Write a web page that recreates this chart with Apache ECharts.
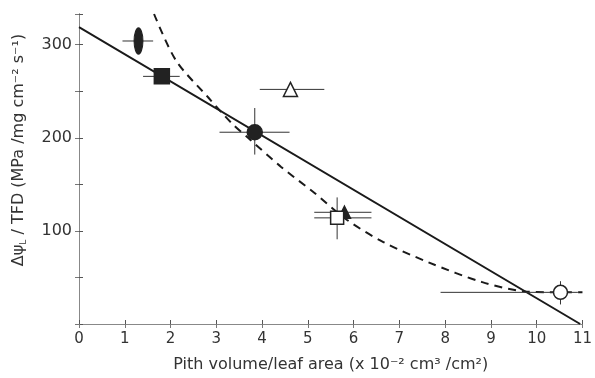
<!DOCTYPE html>
<html>
<head>
<meta charset="utf-8">
<script src="https://cdn.jsdelivr.net/npm/echarts@6/dist/echarts.min.js"></script>
<style>
  html, body { margin: 0; padding: 0; background: #fff; }
  #chart { width: 595px; height: 378px; }
</style>
</head>
<body>
<div id="chart"></div>
<script>
// points: x, y, error bar limits
const ptX   = [1.30, 1.81, 4.62, 3.84, 5.80, 5.64, 10.52];
const ptY   = [304, 266, 252, 206, 120, 114, 34];
const xLo   = [0.95, 1.40, 3.95, 3.07, 5.14, 5.14, 7.90];
const xHi   = [1.62, 2.20, 5.36, 4.60, 6.39, 6.39, 10.9];
const yLo   = [304, 266, 252, 182, 120, 91, 21];
const yHi   = [304, 266, 252, 232, 120, 136, 46];
const ptSym = ['oval', 'fsquare', 'otriangle', 'fcircle', 'ftriangle', 'osquare', 'ocircle'];

// fitted lines
const lineX = [0, 10.95];
const lineY = [319, 0];
const dashX = [1.64, 2.12, 2.83, 3.33, 3.74, 4.41, 5.14, 5.85, 6.65, 7.65, 8.81, 9.74, 10.5, 11.0];
const dashY = [333, 283, 243, 216, 198, 169, 141, 112, 88, 66, 45, 35, 34, 34];

const symbols = {
  oval: { symbol: 'circle', size: [9, 25], fill: '#222' },
  fsquare: { symbol: 'rect', size: 15, fill: '#222' },
  otriangle: { symbol: 'triangle', size: 14, fill: '#fff' },
  fcircle: { symbol: 'circle', size: 15, fill: '#222' },
  ftriangle: { symbol: 'triangle', size: 12, fill: '#222' },
  osquare: { symbol: 'rect', size: 13, fill: '#fff' },
  ocircle: { symbol: 'circle', size: 14, fill: '#fff' }
};

const errData = ptX.map((x, i) => [x, ptY[i], xLo[i], xHi[i], yLo[i], yHi[i]]);

const pointSeries = ptX.map((x, i) => {
  const s = symbols[ptSym[i]];
  return {
    type: 'scatter',
    data: [[x, ptY[i]]],
    symbol: s.symbol,
    symbolSize: s.size,
    z: 5,
    itemStyle: { color: s.fill, borderColor: '#222', borderWidth: 1.5, opacity: 1 }
  };
});

const chart = echarts.init(document.getElementById('chart'));
const txt = '#333';
chart.setOption({
  animation: false,
  textStyle: { fontFamily: 'DejaVu Sans' },
  grid: { left: 79, right: 8, top: 14, bottom: 54 },
  graphic: [{
    type: 'text',
    x: 19, y: 150,
    rotation: Math.PI / 2,
    style: {
      text: '{a|Δψ}{s|L}{a| / TFD (MPa /mg cm⁻² s⁻¹)}',
      align: 'center', verticalAlign: 'middle',
      fill: txt,
      rich: {
        a: { fontSize: 16, fill: txt, fontFamily: 'DejaVu Sans' },
        s: { fontSize: 9, fill: txt, fontFamily: 'DejaVu Sans', padding: [10, 0, 0, 0] }
      }
    }
  }],
  xAxis: [{
    type: 'value', min: 0, max: 11, interval: 1,
    name: 'Pith volume/leaf area (x 10⁻² cm³ /cm²)',
    nameLocation: 'middle', nameGap: 33,
    nameTextStyle: { fontSize: 16, color: txt },
    axisLine: { lineStyle: { color: '#555', width: 1 } },
    axisTick: { inside: true, length: 4, lineStyle: { color: '#555' } },
    axisLabel: { fontSize: 15, color: txt, margin: 8 },
    splitLine: { show: false }
  }, {
    type: 'value', min: 0, max: 11, interval: 1, position: 'top',
    axisLine: { show: true, lineStyle: { color: '#888', width: 1 } },
    axisTick: { inside: true, length: 4, lineStyle: { color: '#777' } },
    axisLabel: { show: false },
    splitLine: { show: false }
  }],
  yAxis: [{
    type: 'value', min: 0, max: 333, interval: 50,
    axisLine: { show: true, lineStyle: { color: '#555', width: 1 } },
    axisTick: { inside: true, length: 4, lineStyle: { color: '#555' } },
    axisLabel: {
      fontSize: 16, color: txt, margin: 7,
      formatter: v => (v % 100 === 0 && v > 0) ? String(v) : ''
    },
    splitLine: { show: false }
  }, {
    type: 'value', min: 0, max: 333, interval: 50, position: 'right',
    axisLine: { show: true, lineStyle: { color: '#888', width: 1 } },
    axisTick: { inside: true, length: 4, lineStyle: { color: '#777' } },
    axisLabel: { show: false },
    splitLine: { show: false }
  }],
  series: [
    {
      type: 'custom',
      data: errData,
      z: 3,
      renderItem: function (params, api) {
        const y = api.value(1);
        const a = api.coord([api.value(2), y]);
        const b = api.coord([api.value(3), y]);
        const c = api.coord([api.value(0), api.value(4)]);
        const d = api.coord([api.value(0), api.value(5)]);
        const st = { stroke: '#333', lineWidth: 1 };
        return {
          type: 'group',
          children: [
            { type: 'line', shape: { x1: a[0], y1: a[1], x2: b[0], y2: b[1] }, style: st },
            { type: 'line', shape: { x1: c[0], y1: c[1], x2: d[0], y2: d[1] }, style: st }
          ]
        };
      }
    },
    {
      type: 'line',
      data: lineX.map((x, i) => [x, lineY[i]]),
      symbol: 'none',
      z: 2,
      lineStyle: { color: '#1a1a1a', width: 2 }
    },
    {
      type: 'line',
      data: dashX.map((x, i) => [x, dashY[i]]),
      symbol: 'none',
      smooth: 0.3,
      z: 2,
      lineStyle: { color: '#1a1a1a', width: 2, type: [8, 6] }
    }
  ].concat(pointSeries)
});
</script>
</body>
</html>
